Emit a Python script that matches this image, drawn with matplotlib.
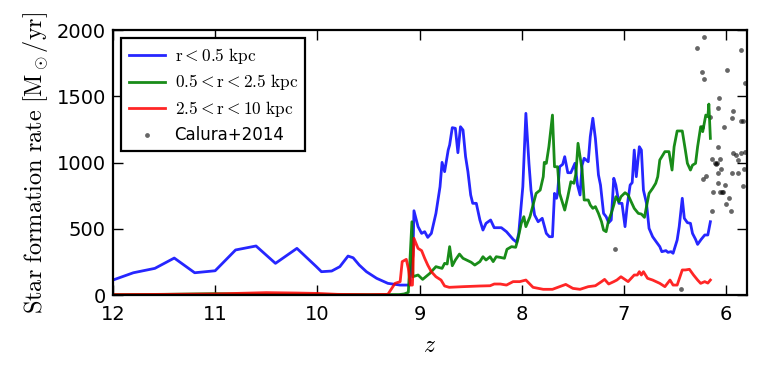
import matplotlib
matplotlib.use("Agg")
import matplotlib.pyplot as plt
import numpy as np

plt.rcParams['mathtext.fontset'] = 'cm'
plt.rcParams['font.family'] = ['DejaVu Sans']

# ---- data (redshift z, star formation rate in Msun/yr) ----
blue_z = [12.0, 11.8, 11.59, 11.40, 11.2, 11.0, 10.8, 10.6, 10.41, 10.2, 10.01, 9.96, 9.86,
          9.78, 9.70, 9.65, 9.59, 9.52, 9.42, 9.31, 9.19, 9.10, 9.065, 9.055, 9.015, 8.98,
          8.95, 8.92, 8.885, 8.84, 8.80, 8.78, 8.755, 8.72, 8.706, 8.68, 8.65, 8.625, 8.60,
          8.575, 8.55, 8.527, 8.50, 8.48, 8.445, 8.41, 8.38, 8.35, 8.305, 8.27, 8.20, 8.15,
          8.085, 8.05, 8.03, 7.99, 7.96, 7.93, 7.91, 7.875, 7.84, 7.80, 7.76, 7.73, 7.70,
          7.68, 7.66, 7.65, 7.63, 7.60, 7.58, 7.55, 7.52, 7.48, 7.455, 7.43, 7.41, 7.39,
          7.35, 7.33, 7.305, 7.28, 7.25, 7.23, 7.20, 7.175, 7.15, 7.125, 7.10, 7.08, 7.05,
          7.02, 6.99, 6.97, 6.94, 6.92, 6.90, 6.88, 6.85, 6.83, 6.81, 6.78, 6.755, 6.72,
          6.685, 6.65, 6.63, 6.59, 6.57, 6.54, 6.52, 6.48, 6.46, 6.43, 6.41, 6.38, 6.35,
          6.33, 6.30, 6.28, 6.245, 6.21, 6.18, 6.155]
blue_sfr = [113, 168, 201, 279, 168, 183, 340, 370, 239, 352, 214, 176, 181,
            214, 294, 281, 226, 176, 126, 88, 75, 75, 300, 636, 516, 465,
            478, 435, 465, 616, 817, 1001, 931, 1094, 1132, 1263, 1258, 1074, 1270,
            1245, 1044, 931, 755, 692, 692, 566, 490, 541, 566, 508, 508, 478,
            420, 398, 465, 817, 1371, 994, 792, 604, 553, 579, 465, 440, 440,
            767, 730, 767, 968, 986, 1044, 923, 923, 994, 830, 755, 980, 1032,
            1006, 1195, 1334, 1182, 906, 830, 616, 591, 546, 566, 881, 830, 692,
            692, 516, 667, 830, 848, 1094, 893, 1119, 1094, 792, 692, 503, 440,
            402, 365, 327, 335, 322, 327, 315, 415, 516, 730, 579, 546, 541,
            465, 420, 382, 420, 453, 453, 553]

green_z = [12.0, 11.5, 11.0, 10.5, 10.0, 9.5, 9.2, 9.15, 9.11, 9.075, 9.065, 9.015, 8.97,
           8.90, 8.84, 8.78, 8.755, 8.73, 8.706, 8.68, 8.65, 8.61, 8.575, 8.54, 8.495,
           8.46, 8.41, 8.38, 8.35, 8.31, 8.28, 8.25, 8.21, 8.17, 8.145, 8.10, 8.06, 8.04,
           8.005, 7.98, 7.96, 7.92, 7.89, 7.86, 7.82, 7.79, 7.78, 7.76, 7.735, 7.70, 7.68,
           7.65, 7.63, 7.60, 7.58, 7.55, 7.52, 7.49, 7.47, 7.45, 7.43, 7.41, 7.39, 7.35,
           7.33, 7.305, 7.28, 7.25, 7.22, 7.20, 7.175, 7.15, 7.125, 7.10, 7.08, 7.05, 7.03,
           6.99, 6.96, 6.93, 6.90, 6.86, 6.83, 6.80, 6.78, 6.755, 6.72, 6.69, 6.67, 6.65,
           6.63, 6.60, 6.56, 6.53, 6.51, 6.48, 6.43, 6.40, 6.38, 6.35, 6.33, 6.30, 6.28,
           6.25, 6.23, 6.20, 6.18, 6.17, 6.155]
green_sfr = [3, 5, 10, 5, 5, 3, 3, 8, 20, 553, 138, 151, 118,
             163, 214, 201, 239, 234, 365, 221, 264, 309, 277, 264, 247,
             226, 252, 289, 264, 289, 252, 289, 284, 277, 345, 365, 360, 415,
             541, 591, 516, 591, 679, 767, 792, 893, 1001, 994, 1119, 1358, 968,
             968, 767, 692, 641, 742, 855, 843, 918, 1145, 1044, 943, 717, 717,
             679, 654, 667, 616, 553, 490, 478, 566, 616, 679, 742, 704, 742,
             772, 755, 704, 654, 616, 611, 586, 667, 767, 805, 843, 893, 1019,
             1044, 1082, 1082, 943, 1119, 1238, 1238, 1094, 994, 943, 980, 994, 1119,
             1270, 1233, 1358, 1346, 1441, 1182]

red_z = [12.0, 11.5, 11.0, 10.8, 10.5, 10.2, 10.0, 9.8, 9.5, 9.31, 9.24, 9.19, 9.17,
         9.13, 9.11, 9.09, 9.07, 9.055, 9.015, 8.98, 8.95, 8.92, 8.885, 8.84, 8.79,
         8.755, 8.71, 8.575, 8.41, 8.31, 8.27, 8.21, 8.15, 8.085, 8.02, 7.96, 7.89,
         7.79, 7.70, 7.63, 7.57, 7.50, 7.43, 7.35, 7.28, 7.22, 7.19, 7.15, 7.10, 7.07,
         7.03, 6.96, 6.93, 6.90, 6.87, 6.85, 6.83, 6.81, 6.77, 6.72, 6.65, 6.60, 6.55,
         6.52, 6.48, 6.43, 6.40, 6.36, 6.32, 6.28, 6.25, 6.21, 6.18, 6.155]
red_sfr = [3, 5, 8, 12, 18, 15, 12, 5, 3, 5, 88, 101, 252,
           269, 200, 75, 75, 428, 352, 335, 277, 226, 176, 138, 113,
           68, 58, 63, 68, 70, 83, 83, 75, 101, 101, 113, 58,
           43, 43, 63, 80, 50, 43, 63, 70, 101, 118, 83, 101, 113,
           138, 101, 126, 151, 151, 176, 151, 176, 126, 113, 88, 63, 113,
           75, 75, 189, 189, 194, 151, 113, 88, 101, 90, 113]

calura_z = [7.09, 6.44, 6.29, 6.22, 6.24, 6.22, 5.855, 5.995, 5.82, 6.07, 6.08, 6.155,
            5.93, 5.94, 5.855, 5.84, 6.24, 6.02, 6.08, 6.14, 6.11, 6.10, 6.06, 5.93,
            5.90, 5.86, 5.82, 5.88, 5.83, 5.94, 5.88, 6.08, 6.05, 6.23, 6.20, 6.08,
            6.01, 5.84, 6.125, 6.06, 6.04, 6.03, 5.97, 6.00, 5.95, 6.14, 6.09]
calura_sfr = [345, 43, 1862, 1950, 1680, 1630, 1849, 1698, 1602, 1484, 1409, 1346,
              1389, 1338, 1313, 1316, 1265, 1265, 1119, 1024, 994, 990, 1024, 1069,
              1057, 1069, 1082, 1019, 948, 923, 923, 923, 950, 873, 898, 848,
              830, 825, 775, 780, 775, 780, 730, 684, 634, 634, 1000]

labels = [r'$\mathrm{r < 0.5\ kpc}$', r'$\mathrm{0.5 < r < 2.5\ kpc}$',
          r'$\mathrm{2.5 < r < 10\ kpc}$', 'Calura+2014']

fig = plt.figure(figsize=(7.63, 3.75), dpi=100)
ax = fig.add_axes([0.148, 0.2133, 0.8306, 0.7067])

ax.plot(blue_z, blue_sfr, color=(0, 0, 1), lw=2, alpha=0.85, label=labels[0])
ax.plot(green_z, green_sfr, color=(0, 0.5, 0), lw=2, alpha=0.9, label=labels[1])
ax.plot(red_z, red_sfr, color=(1, 0, 0), lw=2, alpha=0.85, label=labels[2])
ax.scatter(calura_z, calura_sfr, s=12, color='black', alpha=0.6, lw=0, label=labels[3])

ax.set_xlim(12, 5.8)
ax.set_ylim(0, 2000)
ax.set_xticks([12, 11, 10, 9, 8, 7, 6])
ax.set_yticks([0, 500, 1000, 1500, 2000])
ax.tick_params(direction='in', length=7, width=1, top=True, right=True, labelsize=14)
ax.tick_params(axis='x', pad=7)
ax.tick_params(axis='y', pad=5)
for s in ax.spines.values():
    s.set_linewidth(1.6)

ax.set_xlabel(r'$z$', fontsize=17, labelpad=7)
ax.set_ylabel(r'$\mathrm{Star\ formation\ rate\ [M_\odot/yr]}$', fontsize=17.5, labelpad=5)

leg = ax.legend(loc='upper left', frameon=True, fancybox=False,
                edgecolor='black', framealpha=1, borderpad=0.45, labelspacing=0.4,
                handlelength=2.15, handletextpad=0.6, borderaxespad=0.5,
                prop={'size': 12})
for t in leg.get_texts()[:3]:
    t.set_fontsize(12.5)
leg.get_frame().set_linewidth(1.6)

fig.savefig('out.png', dpi=100)
